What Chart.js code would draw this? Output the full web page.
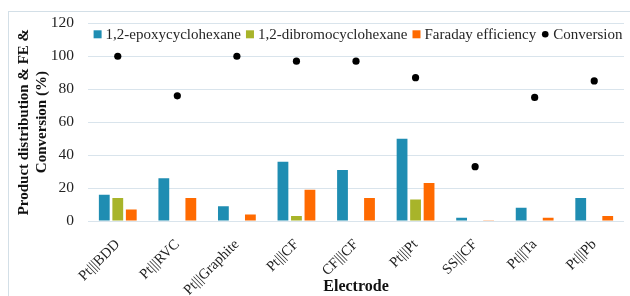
<!DOCTYPE html>
<html>
<head>
<meta charset="utf-8">
<script src="https://cdn.jsdelivr.net/npm/chart.js@4/dist/chart.umd.min.js"></script>
<style>
html,body{margin:0;padding:0;background:#fff;}
#wrap{position:relative;width:630px;height:296px;overflow:hidden;}
#frame{position:absolute;left:8px;top:11px;width:640px;height:300px;border:1px solid #d3dfe7;box-sizing:border-box;pointer-events:none;}
canvas{display:block;}
</style>
</head>
<body>
<div id="wrap">
<canvas id="c" width="630" height="296"></canvas>
<div id="frame"></div>
</div>
<script>
const categories = ["Pt|||BDD","Pt|||RVC","Pt|||Graphite","Pt|||CF","CF|||CF","Pt|||Pt","SS|||CF","Pt|||Ta","Pt|||Pb"];
const epoxy = [16, 26, 9, 36, 31, 50, 2, 8, 14];
const dibromo = [14, 0, 0, 3, 0, 13, 0, 0, 0];
const faraday = [7, 14, 4, 19, 14, 23, 0.5, 2, 3];
const conversion = [100, 76, 100, 97, 97, 87, 33, 75, 85];
const yTicks = [0, 20, 40, 60, 80, 100, 120];

const serif = "'Liberation Serif','Times New Roman',serif";
const barOpts = {categoryPercentage: 0.68, barPercentage: 0.8};

// horizontal legend drawn inside the plot area, built from the datasets
const inlineLegend = {
  id:'inlineLegend',
  afterDraw(chart){
    const ctx = chart.ctx, area = chart.chartArea;
    ctx.save();
    ctx.font = "15px " + serif;
    const box = 8, gapBox = 4, gapItem = 5;
    const items = chart.data.datasets.map(ds => ({
      label: ds.label,
      color: ds.backgroundColor,
      circle: ds.type === 'line',
      w: box + gapBox + ctx.measureText(ds.label).width
    }));
    const total = items.reduce((a,it)=>a+it.w,0) + gapItem*(items.length-1);
    let x = (area.left + area.right)/2 - total/2 + 2;
    const y = area.top + 11;
    ctx.textBaseline = 'middle';
    ctx.textAlign = 'left';
    items.forEach(it => {
      ctx.fillStyle = it.color;
      if (it.circle) {
        ctx.beginPath();
        ctx.arc(x + box/2, y, 3.3, 0, Math.PI*2);
        ctx.fill();
      } else {
        ctx.fillRect(x, y - box/2, box, box);
      }
      ctx.fillStyle = '#262626';
      ctx.fillText(it.label, x + box + gapBox, y + 1);
      x += it.w + gapItem;
    });
    ctx.restore();
  }
};

new Chart(document.getElementById('c'), {
  data: {
    labels: categories,
    datasets: [
      Object.assign({type:'bar', label:'1,2-epoxycyclohexane', data: epoxy, backgroundColor:'#1f8db2'}, barOpts),
      Object.assign({type:'bar', label:'1,2-dibromocyclohexane', data: dibromo, backgroundColor:'#a8b42a'}, barOpts),
      Object.assign({type:'bar', label:'Faraday efficiency', data: faraday, backgroundColor:'#ff6a00'}, barOpts),
      {type:'line', label:'Conversion', data: conversion, showLine:false, pointStyle:'circle',
       pointRadius:3.6, pointHoverRadius:3.6, backgroundColor:'#000', borderColor:'#000', pointBorderWidth:0}
    ]
  },
  plugins:[inlineLegend],
  options: {
    responsive:false,
    animation:false,
    events:[],
    layout:{padding:{left:12, right:6, top:22, bottom:0}},
    plugins:{
      tooltip:{enabled:false},
      legend:{display:false}
    },
    scales:{
      x:{
        grid:{display:false},
        border:{display:false},
        ticks:{
          color:'#222', font:{family:serif, size:14.5},
          minRotation:45, maxRotation:45, autoSkip:false, padding:7
        },
        title:{display:true, text:'Electrode', color:'#111', font:{family:serif, size:16, weight:'bold'}, padding:{top:0,bottom:0}},
        afterFit(s){ s.height = 75; }
      },
      y:{
        min:0, max:120,
        afterBuildTicks(s){ s.ticks = yTicks.map(v=>({value:v})); },
        grid:{color:'#d9e4ec', lineWidth:1, drawTicks:false},
        border:{display:false},
        ticks:{color:'#222', font:{family:serif, size:15.5}, padding:14},
        title:{display:true, text:['Product distribution & FE &','Conversion (%)'], color:'#111',
               font:{family:serif, size:15, weight:'bold', lineHeight:1.2}, padding:{top:3,bottom:0}},
        afterFit(s){ s.width = 76; }
      }
    }
  }
});
</script>
</body>
</html>
